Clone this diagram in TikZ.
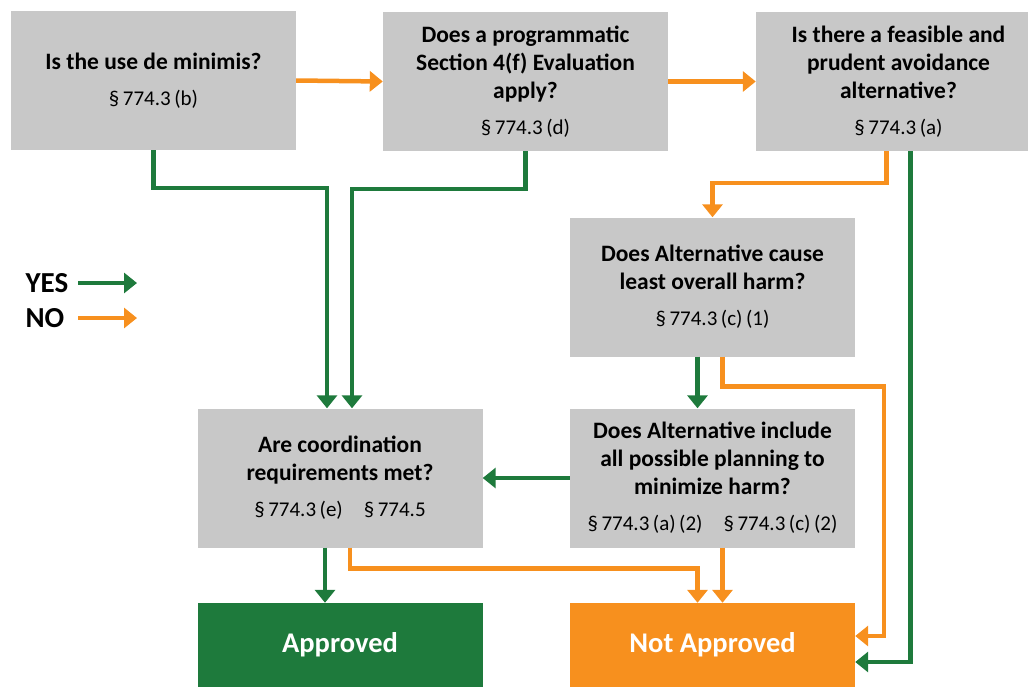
\documentclass[tikz,border=0pt]{standalone}
\usepackage{fontspec}
\setmainfont{Carlito}
\usetikzlibrary{arrows.meta}

\definecolor{boxgray}{HTML}{C8C8C8}
\definecolor{yesgreen}{HTML}{1E7A3C}
\definecolor{nored}{HTML}{F7901E}

\tikzset{
  question/.style = {fill = boxgray, minimum width = 285pt, minimum height = 139pt, inner sep = 0pt,
    align = center, font = \fontsize{23.5}{28}\selectfont\bfseries},
  outcome/.style = {minimum width = 285pt, minimum height = 84pt, inner sep = 0pt,
    text = white, font = \fontsize{28.5}{30}\selectfont\bfseries},
  legend/.style = {anchor = west, font = \fontsize{29}{30}\selectfont\bfseries},
  yes/.style = {yesgreen, line width = 4.5pt, -{Triangle[width = 20pt, length = 13pt]}},
  no/.style = {nored, line width = 4.5pt, -{Triangle[width = 20pt, length = 13pt]}},
}
\newcommand{\sect}[1]{\\[8pt]{\fontsize{21}{22}\selectfont\mdseries #1}}

\begin{document}
\begin{tikzpicture}[x = 1pt, y = -1pt]
\useasboundingbox (0, 0) rectangle (1028, 686);
% Boxes
\node[question] (q1) at (153.5, 80.5) {Is the use de minimis?\sect{§\,774.3\,(b)}};
\node[question] (q2) at (525.5, 81.5) {Does a programmatic\\Section 4(f) Evaluation\\apply?\sect{§\,774.3\,(d)}};
\node[question] (q3) at (898.5, 81.5) {Is there a feasible and\\prudent avoidance\\alternative?\sect{§\,774.3\,(a)}};
\node[question] (q4) at (712.5, 287) {Does Alternative cause\\least overall harm?\sect{§\,774.3\,(c)\,(1)}};
\node[question] (q5) at (340, 478) {Are coordination\\requirements met?\sect{§\,774.3\,(e)\quad§\,774.5}};
\node[question] (q6) at (712.5, 478) {Does Alternative include\\all possible planning to\\minimize harm?\sect{§\,774.3\,(a)\,(2)\quad§\,774.3\,(c)\,(2)}};
\node[outcome, fill = yesgreen] (ok) at (340, 645) {Approved};
\node[outcome, fill = nored] (notok) at (712.5, 645) {Not Approved};
% Legend
\node[legend] (lyes) at (22, 283) {YES};
\node[legend] (lno) at (22, 318) {NO};
\coordinate (lyesend) at (137, 283);
\coordinate (lnoend) at (137, 318);
\draw[yes] (78, 283) -- (lyesend);
\draw[no] (78, 318) -- (lnoend);
% NO arrows
\draw[no] (q1.east) -- (q2.west);
\draw[no] (q2.east) -- (q3.west);
\draw[no] ([xshift = -12pt]q3.south) -- ++(0, 32) -| (q4.north);
\draw[no] ([xshift = 10pt]q4.south) -- ++(0, 30) -| ([xshift = 29pt, yshift = 9pt]notok.east) -- ([yshift = 9pt]notok.east);
\draw[no] ([xshift = 10pt]q5.south) -- ++(0, 21) -| ([xshift = -15pt]notok.north);
\draw[no] ([xshift = 10pt]q6.south) -- ([xshift = 10pt]notok.north);
% YES arrows
\draw[yes] (q1.south) -- ++(0, 38) -| ([xshift = -13pt]q5.north);
\draw[yes] (q2.south) -- ++(0, 38) -| ([xshift = 12pt]q5.north);
\draw[yes] ([xshift = 12pt]q3.south) |- ([yshift = -17pt]notok.east);
\draw[yes] ([xshift = -15pt]q4.south) -- ([xshift = -15pt]q6.north);
\draw[yes] (q6.west) -- (q5.east);
\draw[yes] ([xshift = -15pt]q5.south) -- ([xshift = -15pt]ok.north);
\end{tikzpicture}
\end{document}
